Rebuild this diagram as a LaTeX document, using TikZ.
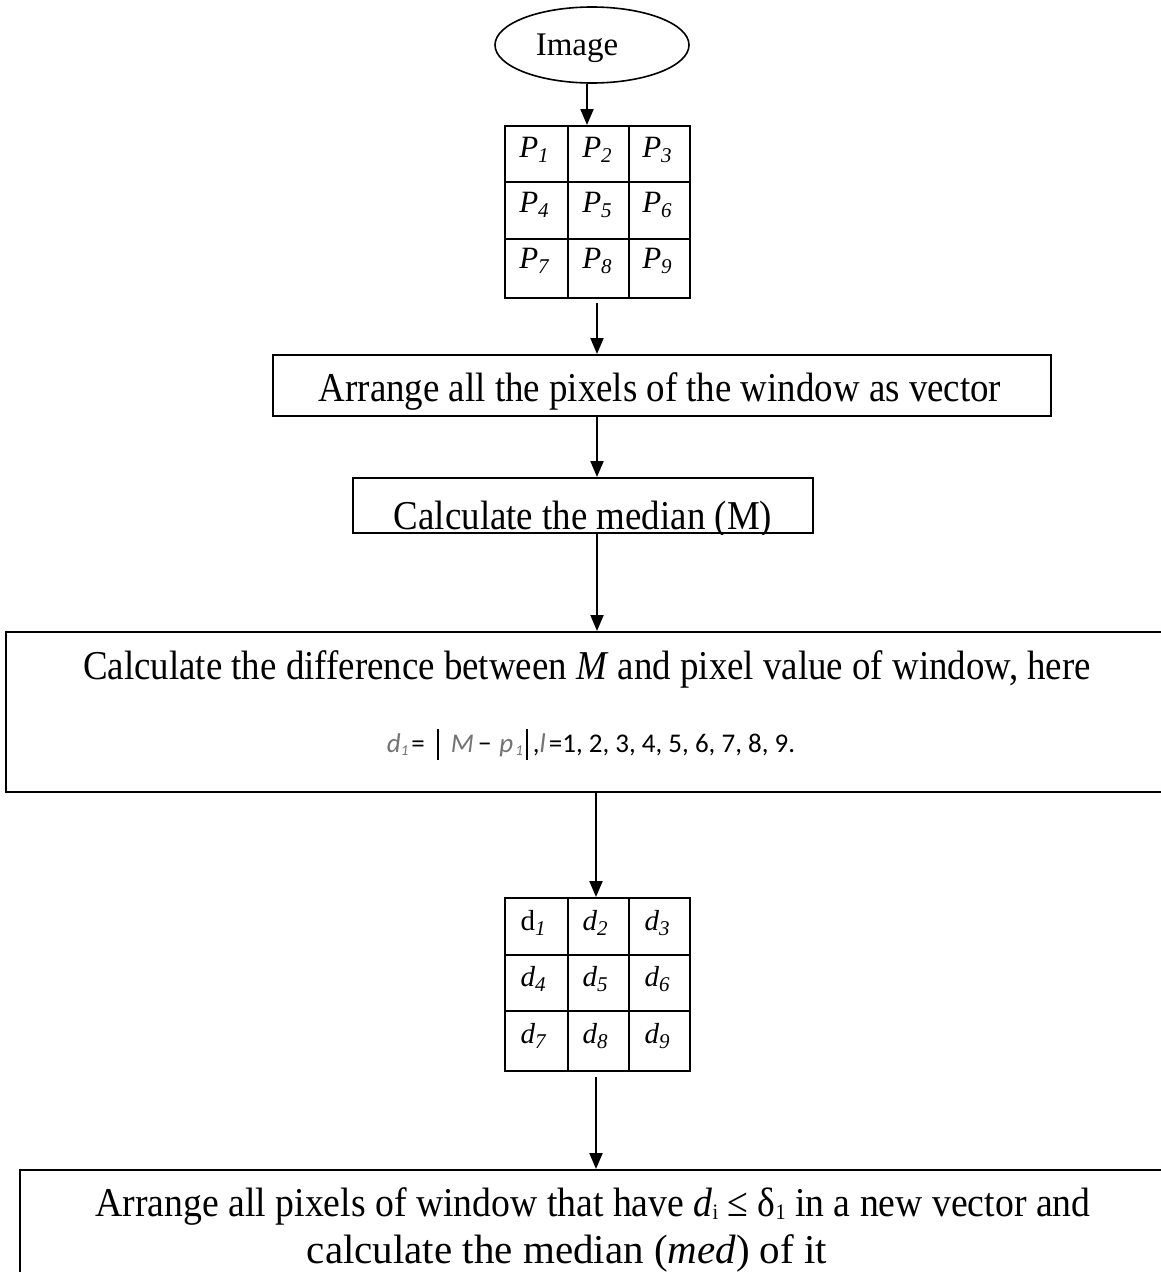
\documentclass[tikz,border=0pt]{standalone}
\usepackage{fontspec}
\setmainfont{Liberation Serif}
\newfontfamily\narrowserif[FakeStretch=0.90]{Liberation Serif}
\newfontfamily\narrowserifb[FakeStretch=0.92]{Liberation Serif}
\newfontfamily\formulafont{Carlito}
\usetikzlibrary{arrows.meta,shapes.geometric}

\newcommand{\cellsub}[1]{\raisebox{-5pt}{\fontsize{21}{21}\selectfont #1}}
\newcommand{\eqsub}[1]{\raisebox{-3pt}{\fontsize{15}{15}\selectfont #1}}
\newcommand{\absbar}{\rule[-8pt]{2pt}{31pt}}

\begin{document}
\begin{tikzpicture}[x=1pt,y=-1pt,
  frame/.style={draw,line width=2pt,inner sep=0pt},
  rule/.style={line width=2pt},
  flow/.style={line width=2pt,-{Triangle[length=16pt,width=13pt]}},
  boxtext/.style={anchor=base,inner sep=0pt,font=\narrowserif\fontsize{41}{47}\selectfont},
  ptext/.style={anchor=base,inner sep=0pt,font=\fontsize{31}{31}\selectfont\itshape},
  dtext/.style={anchor=base,inner sep=0pt,font=\fontsize{29}{29}\selectfont\itshape}
]
\useasboundingbox (0,0) rectangle (1161,1272);
\clip (0,0) rectangle (1161,1272);
\fill[white] (0,0) rectangle (1161,1272);

% axis positions of the connectors
\coordinate (ax1) at (587,0);
\coordinate (ax2) at (597,0);
\coordinate (ax3) at (596,0);

% start: input image
\node[ellipse,draw,line width=1.6pt,minimum width=194pt,minimum height=76pt,inner sep=0pt] (img) at (592,45) {};
\node[anchor=base,inner sep=0pt,font=\fontsize{33}{33}\selectfont] (imgtxt) at (577,55) {Image};

% 3x3 window of pixels
\node[frame,minimum width=185pt,minimum height=172pt] (g1) at (597.5,212) {};
\draw[rule] (568,126) -- (568,298) (629,126) -- (629,298)
            (505,182) -- (690,182) (505,239) -- (690,239);
\node[ptext] (p1) at (534,157) {P\cellsub{1}};
\node[ptext] (p2) at (597,157) {P\cellsub{2}};
\node[ptext] (p3) at (657,157) {P\cellsub{3}};
\node[ptext] (p4) at (534,212) {P\cellsub{4}};
\node[ptext] (p5) at (597,212) {P\cellsub{5}};
\node[ptext] (p6) at (657,212) {P\cellsub{6}};
\node[ptext] (p7) at (534,268) {P\cellsub{7}};
\node[ptext] (p8) at (597,268) {P\cellsub{8}};
\node[ptext] (p9) at (657,268) {P\cellsub{9}};

% step 1
\node[frame,minimum width=778pt,minimum height=61pt] (b1) at (662,385.5) {};
\node[boxtext] (b1t) at (660,401) {Arrange all the pixels of the window as vector};

% step 2 (text cut by the lower edge)
\node[frame,minimum width=460pt,minimum height=55pt] (b2) at (583,505.5) {};
\begin{scope}
  \clip (b2.south west) rectangle (b2.north east);
  \node[boxtext] (b2t) at (583,529) {Calculate the median (M)};
\end{scope}

% step 3
\node[frame,minimum width=1169pt,minimum height=160pt] (b3) at (590.5,712) {};
\node[boxtext] (b3t) at (587,679) {Calculate the difference between \textit{M} and pixel value of window, here};
\node[anchor=base,inner sep=0pt,font=\formulafont\fontsize{27}{27}\selectfont] (b3f) at (591,752)
  {\textcolor{black!55}{\itshape d\eqsub{1}}\hspace{3pt}=\hspace{12pt}\absbar\hspace{12pt}\textcolor{black!55}{\itshape M}\hspace{4pt}−\hspace{8pt}\textcolor{black!55}{\itshape p\hspace{2pt}\eqsub{1}}\hspace{3pt}\absbar\hspace{5pt},\textcolor{black!55}{\itshape l}\hspace{3pt}=1, 2, 3, 4, 5, 6, 7, 8, 9.};

% 3x3 window of differences
\node[frame,minimum width=185pt,minimum height=173pt] (g2) at (597.5,984.5) {};
\draw[rule] (568,898) -- (568,1071) (629,898) -- (629,1071)
            (505,955) -- (690,955) (505,1011) -- (690,1011);
\node[dtext] (d1) at (533,930) {\upshape d\textit{\cellsub{1}}};
\node[dtext] (d2) at (595,930) {d\cellsub{2}};
\node[dtext] (d3) at (657,930) {d\cellsub{3}};
\node[dtext] (d4) at (533,986) {d\cellsub{4}};
\node[dtext] (d5) at (595,986) {d\cellsub{5}};
\node[dtext] (d6) at (657,986) {d\cellsub{6}};
\node[dtext] (d7) at (533,1043) {d\cellsub{7}};
\node[dtext] (d8) at (595,1043) {d\cellsub{8}};
\node[dtext] (d9) at (657,1043) {d\cellsub{9}};

% step 4
\node[frame,minimum width=1155pt,minimum height=130pt] (b4) at (597.5,1235) {};
\node[boxtext,font=\narrowserifb\fontsize{41}{47}\selectfont] (b4t1) at (593,1216) {Arrange all pixels of window that have \textit{d}\eqsub{\fontsize{22}{22}\selectfont i} ≤ δ\eqsub{\fontsize{22}{22}\selectfont 1} in a new vector and};
\node[boxtext,font=\fontsize{41}{47}\selectfont] (b4t2) at (567,1263) {calculate the median (\textit{med}) of it};

% connectors
\draw[flow] (img.south -| ax1) -- (g1.north -| ax1);
\draw[flow,shorten <=4pt] (g1.south -| ax2) -- (b1.north -| ax2);
\draw[flow] (b1.south -| ax2) -- (b2.north -| ax2);
\draw[flow] (b2.south -| ax2) -- (b3.north -| ax2);
\draw[flow] (b3.south -| ax3) -- (g2.north -| ax3);
\draw[flow,shorten <=5pt] (g2.south -| ax3) -- (b4.north -| ax3);
\end{tikzpicture}
\end{document}
